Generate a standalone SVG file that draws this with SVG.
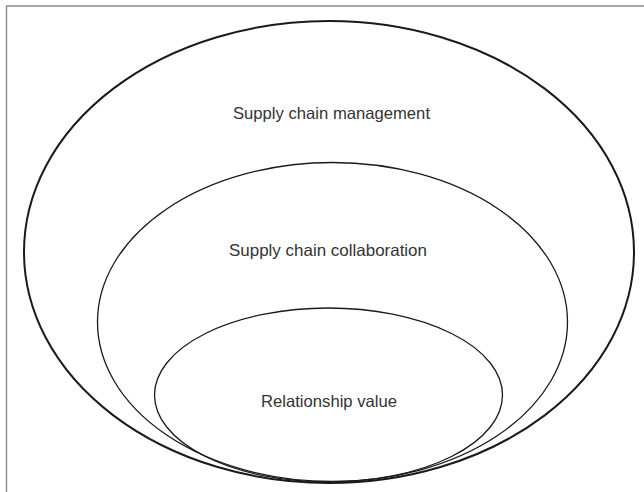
<svg xmlns="http://www.w3.org/2000/svg" width="644" height="492" viewBox="0 0 644 492">
  <style>
    .frame { fill: none; stroke: #8a8a8a; stroke-width: 1.4; }
    .ring { fill: none; stroke: #1a1a1a; stroke-width: 1.3; }
    .ring.outer { stroke-width: 2; }
    .label { font-family: "Liberation Sans", "Open Sans", Arial, sans-serif; font-size: 16.5px; fill: #333; text-anchor: middle; }
  </style>
  <rect width="644" height="492" fill="#fff"/>
  <!-- partial frame: top and left edges -->
  <path class="frame" d="M6.5,492 V6 H644"/>
  <g id="supply-chain-management">
    <ellipse class="ring outer" cx="329" cy="252" rx="305" ry="231"/>
    <text class="label" x="331.5" y="119" textLength="197" lengthAdjust="spacingAndGlyphs">Supply chain management</text>
  </g>
  <g id="supply-chain-collaboration">
    <ellipse class="ring" cx="332.5" cy="322" rx="235" ry="159.5"/>
    <text class="label" x="328" y="256" textLength="198" lengthAdjust="spacingAndGlyphs">Supply chain collaboration</text>
  </g>
  <g id="relationship-value">
    <ellipse class="ring" cx="328.5" cy="395" rx="174" ry="87"/>
    <text class="label" x="329" y="407" textLength="136" lengthAdjust="spacingAndGlyphs">Relationship value</text>
  </g>
  <g id="connectors"/>
</svg>
